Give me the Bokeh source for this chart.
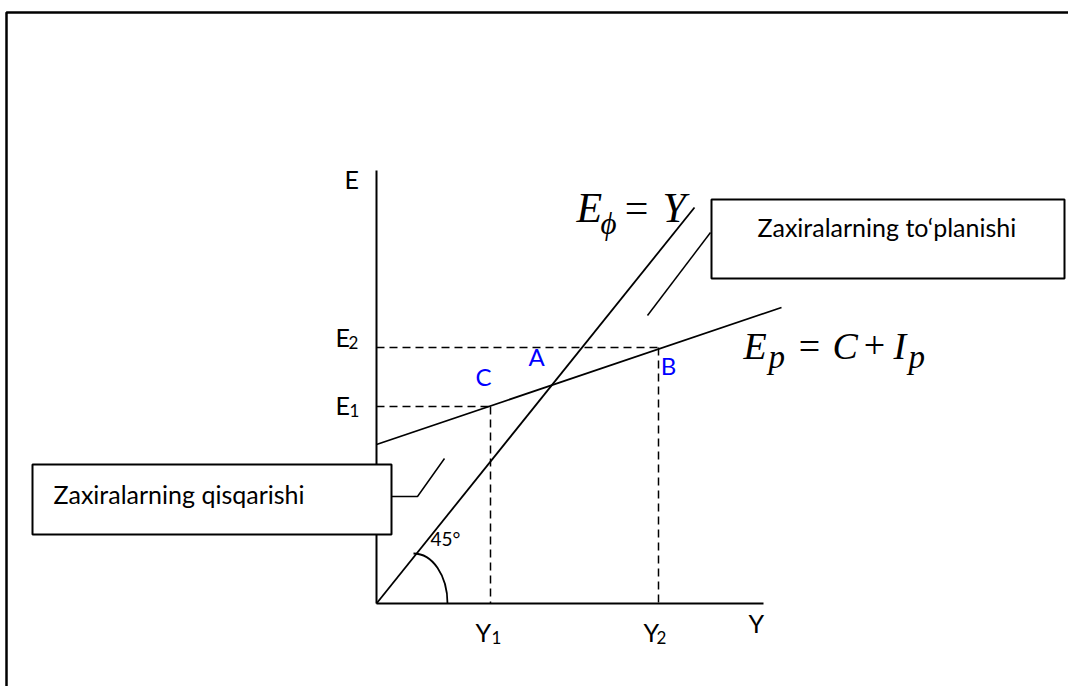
from bokeh.plotting import figure
from bokeh.models import Range1d
from bokeh.core.properties import value
from bokeh.embed import file_html
from bokeh.resources import INLINE

# ---- model values (units measured from the origin of the E/Y axes) ----
Y1, Y2 = 114, 282            # output levels
E1, E2 = 197, 256            # expenditure levels
axis_Y_end = 387             # horizontal axis length
axis_E_end = 433             # vertical axis length
line45_Y = [0, 318]          # E_phi = Y line
line45_E = [0, 396]
ep_Y = [0, 405]              # E_p = C + I_p line
ep_E = [159, 296]
point_labels = ["C", "A", "B"]
box_texts = ["Zaxiralarning to\u2018planishi", "Zaxiralarning qisqarishi"]

p = figure(width=1068, height=686, x_range=Range1d(-376, 692), y_range=Range1d(-83, 603),
           output_backend="svg", toolbar_location=None, min_border=0,
           x_axis_location=None, y_axis_location=None)
p.grid.visible = False
p.outline_line_color = None

BLACK = "#000000"
SANS = value("Lato")
SERIF = value("Liberation Serif")

# page frame (left and top edges)
p.line([-370, -370, 700], [-90, 591, 591], line_color=BLACK, line_width=2.5)

# axes
p.line([0, 0], [0, axis_E_end], line_color=BLACK, line_width=2)
p.line([0, axis_Y_end], [0, 0], line_color=BLACK, line_width=2)

# dashed guides
for yy, ee in ((Y1, E1), (Y2, E2)):
    p.line([0, yy], [ee, ee], line_color=BLACK, line_width=1.5, line_dash="8 5")
    p.line([yy, yy], [ee, 0], line_color=BLACK, line_width=1.5, line_dash="8 5")

# curves
p.line(line45_Y, line45_E, line_color=BLACK, line_width=1.8)
p.line(ep_Y, ep_E, line_color=BLACK, line_width=1.8)

# 45 degree arc
p.bezier(x0=[37], y0=[50], x1=[71], y1=[0], cx0=[56], cy0=[50], cx1=[71], cy1=[28],
         line_color=BLACK, line_width=1.8)

# leaders
p.line([271, 334], [288, 371], line_color=BLACK, line_width=1.5)
p.line([15, 41, 68], [107, 107, 145], line_color=BLACK, line_width=1.5)

# boxes
p.quad(left=[335, -344], right=[688, 15], top=[404, 139], bottom=[325, 69],
       fill_color="white", line_color=BLACK, line_width=2)
p.text(x=[381, -323], y=[377, 110], text=box_texts, text_font=SANS,
       text_font_size="25px", text_color=BLACK, text_baseline="alphabetic")

# axis labels
p.text(x=[-32, -41, -41, 372, 99, 267], y=[425, 267, 199, -19, -28, -28],
       text=["E", "E", "E", "Y", "Y", "Y"], text_font=SANS, text_font_size="25px",
       text_color=BLACK, text_baseline="alphabetic")
p.text(x=[-28, -27, 115, 280], y=[261, 193, -34, -34], text=["2", "1", "1", "2"],
       text_font=SANS, text_font_size="17px", text_color=BLACK, text_baseline="alphabetic")
p.text(x=[54], y=[65], text=["45\u00b0"], text_font=SANS, text_font_size="19px",
       text_color=BLACK, text_baseline="alphabetic")

# point labels
p.text(x=[Y1 - 7, 160, Y2 + 10], y=[227, 247, 238], text=point_labels, text_font=SANS,
       text_font_size="24px", text_color="#0000FF", text_align="center",
       text_baseline="middle")

# formulas
p.text(x=[200, 286], y=[396, 396], text=["E", "Y"], text_font=SERIF,
       text_font_style="italic", text_font_size="42px", text_color=BLACK,
       text_baseline="alphabetic")
p.text(x=[224], y=[380], text=["\u03d5"], text_font=SERIF, text_font_style="italic",
       text_font_size="31px", text_color=BLACK, text_baseline="alphabetic")
p.text(x=[260], y=[396], text=["="], text_font=SERIF, text_font_size="42px",
       text_color=BLACK, text_baseline="alphabetic", text_align="center")

p.text(x=[367, 456, 517], y=[258, 258, 258], text=["E", "C", "I"], text_font=SERIF,
       text_font_style="italic", text_font_size="38px", text_color=BLACK,
       text_baseline="alphabetic")
p.text(x=[392, 532], y=[247, 247], text=["p", "p"], text_font=SERIF,
       text_font_style="italic", text_font_size="33px", text_color=BLACK,
       text_baseline="alphabetic")
p.text(x=[433, 498], y=[258, 258], text=["=", "+"], text_font=SERIF,
       text_font_size="38px", text_color=BLACK, text_baseline="alphabetic",
       text_align="center")

open("out.html", "w").write(file_html(p, INLINE))
